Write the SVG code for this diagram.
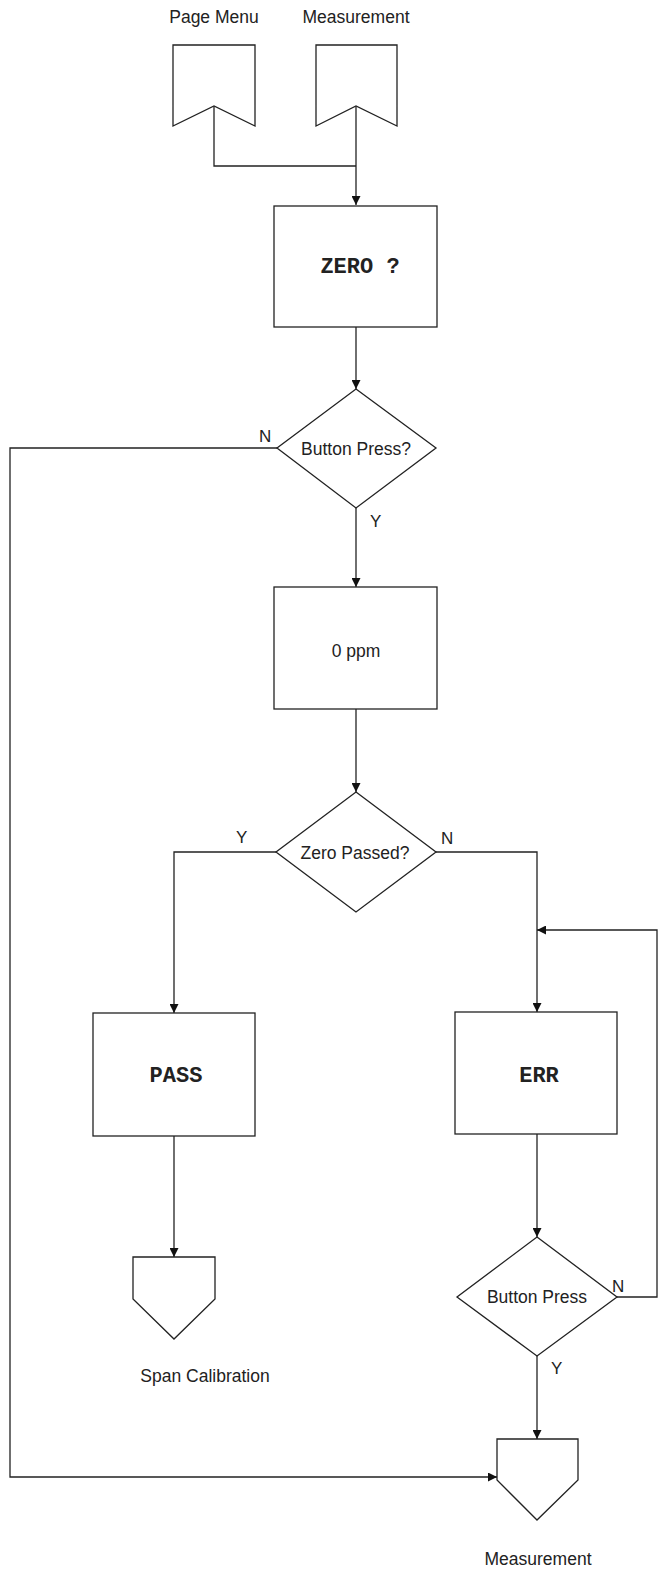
<svg xmlns="http://www.w3.org/2000/svg" width="659" height="1574" viewBox="0 0 659 1574">
<style>
.s{fill:#fff;stroke:#222;stroke-width:1.3}
.c{fill:none;stroke:#222;stroke-width:1.3}
.t{font-family:"Liberation Sans",Arial,sans-serif;font-size:17.5px;fill:#222;text-anchor:middle}
.m{font-family:"Liberation Mono","Courier New",monospace;font-size:22px;font-weight:bold;fill:#222;text-anchor:middle}
.l{font-family:"Liberation Sans",Arial,sans-serif;font-size:17px;fill:#222}
</style>
<defs>
<marker id="a" viewBox="0 0 10 10" refX="10" refY="5" markerWidth="9" markerHeight="9" markerUnits="userSpaceOnUse" orient="auto">
<path d="M0,0 L10,5 L0,10 z" fill="#111"/>
</marker>
</defs>
<g id="connectors">
<polyline class="c" points="214,106 214,166 356,166"/>
<polyline class="c" points="356,106 356,205" marker-end="url(#a)"/>
<line class="c" x1="356" y1="327" x2="356" y2="389" marker-end="url(#a)"/>
<polyline class="c" points="277,448 10,448 10,1477 497,1477" marker-end="url(#a)"/>
<line class="c" x1="356" y1="508" x2="356" y2="587" marker-end="url(#a)"/>
<line class="c" x1="356" y1="709" x2="356" y2="792" marker-end="url(#a)"/>
<polyline class="c" points="276,852 174,852 174,1013" marker-end="url(#a)"/>
<polyline class="c" points="436,852 537,852 537,1012" marker-end="url(#a)"/>
<line class="c" x1="174" y1="1136" x2="174" y2="1257" marker-end="url(#a)"/>
<line class="c" x1="537" y1="1134" x2="537" y2="1237" marker-end="url(#a)"/>
<polyline class="c" points="617,1297 657,1297 657,930 537,930" marker-end="url(#a)"/>
<line class="c" x1="537" y1="1356" x2="537" y2="1439" marker-end="url(#a)"/>
<text class="l" x="259" y="442">N</text>
<text class="l" x="370" y="527">Y</text>
<text class="l" x="236" y="843">Y</text>
<text class="l" x="441" y="844">N</text>
<text class="l" x="612" y="1292">N</text>
<text class="l" x="551" y="1374">Y</text>
</g>
<g id="pageMenu">
<polygon class="s" points="173,45 255,45 255,126 214,106 173,126"/>
<text class="t" x="214" y="23">Page Menu</text>
</g>
<g id="measurementIn">
<polygon class="s" points="316,45 397,45 397,126 356,106 316,126"/>
<text class="t" x="356" y="23">Measurement</text>
</g>
<g id="zero">
<rect class="s" x="274" y="206" width="163" height="121"/>
<text class="m" x="360" y="273">ZERO ?</text>
</g>
<g id="buttonPress1">
<polygon class="s" points="356,389 436,448 356,508 277,448"/>
<text class="t" x="356" y="455">Button Press?</text>
</g>
<g id="ppm">
<rect class="s" x="274" y="587" width="163" height="122"/>
<text class="t" x="356" y="657">0 ppm</text>
</g>
<g id="zeroPassed">
<polygon class="s" points="356,792 436,852 356,912 276,852"/>
<text class="t" x="355" y="859">Zero Passed?</text>
</g>
<g id="pass">
<rect class="s" x="93" y="1013" width="162" height="123"/>
<text class="m" x="176" y="1082">PASS</text>
</g>
<g id="err">
<rect class="s" x="455" y="1012" width="162" height="122"/>
<text class="m" x="539" y="1082">ERR</text>
</g>
<g id="buttonPress2">
<polygon class="s" points="537,1237 617,1297 537,1356 457,1297"/>
<text class="t" x="537" y="1303">Button Press</text>
</g>
<g id="spanCal">
<polygon class="s" points="133,1257 215,1257 215,1299 174,1339 133,1299"/>
<text class="t" x="205" y="1382">Span Calibration</text>
</g>
<g id="measurementOut">
<polygon class="s" points="497,1439 578,1439 578,1480 537,1520 497,1480"/>
<text class="t" x="538" y="1565">Measurement</text>
</g>
</svg>
